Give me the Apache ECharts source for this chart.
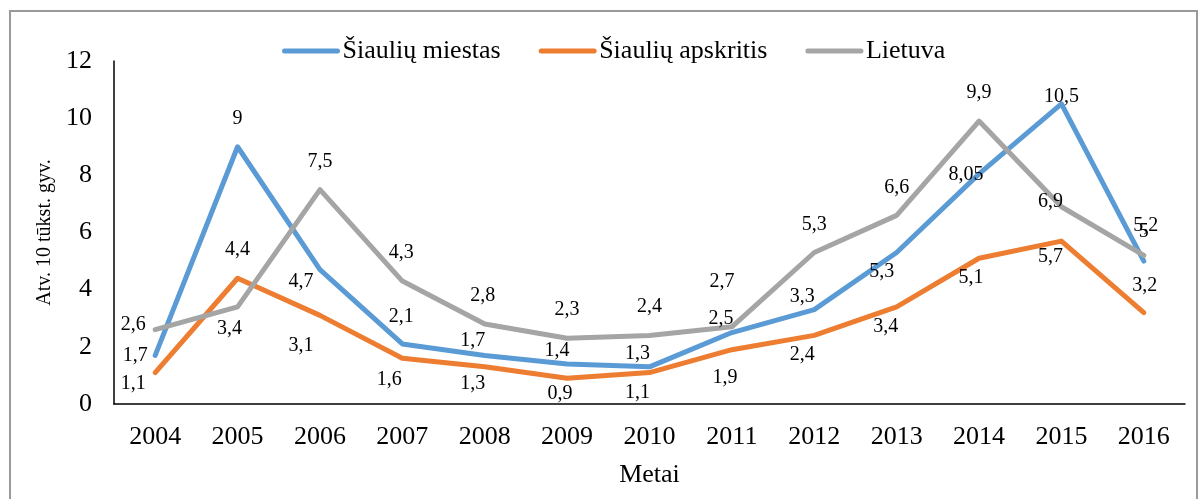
<!DOCTYPE html>
<html>
<head>
<meta charset="utf-8">
<script src="https://cdn.jsdelivr.net/npm/echarts@6/dist/echarts.min.js"></script>
<style>
    html, body { margin: 0; padding: 0; background: #fff; }
    #chart { width: 1199px; height: 499px; }
</style>
</head>
<body>
<div id="chart"></div>
<script>
    var years = ['2004', '2005', '2006', '2007', '2008', '2009', '2010', '2011', '2012', '2013', '2014', '2015', '2016'];
    var miestas = [1.7, 9, 4.7, 2.1, 1.7, 1.4, 1.3, 2.5, 3.3, 5.3, 8.05, 10.5, 5];
    var apskritis = [1.1, 4.4, 3.1, 1.6, 1.3, 0.9, 1.1, 1.9, 2.4, 3.4, 5.1, 5.7, 3.2];
    var lietuva = [2.6, 3.4, 7.5, 4.3, 2.8, 2.3, 2.4, 2.7, 5.3, 6.6, 9.9, 6.9, 5.2];

    // etikečių poslinkiai nuo taško (px)
    var miestasOffsets = [[-20, 0], [0, -28], [-19, 12], [-1, -27], [-12, -15], [-10, -13], [-12, -13], [-11, -14], [-12, -13], [-15, 19], [-13, 1], [0, -7], [0, -29]];
    var apskritisOffsets = [[-22, 11], [0, -28], [-19, 30], [-13, 21], [-12, 17], [-7, 15], [-12, 20], [-7, 28], [-12, 19], [-11, 20], [-8, 20], [-11, 16], [1, -27]];
    var lietuvaOffsets = [[-22, -5], [-8, 22], [0, -28], [-1, -28], [-2, -28], [0, -29], [0, -29], [-10, -45], [0, -28], [0, -28], [0, -28], [-11, -5], [2, -30]];

    var font = "'Liberation Serif', 'Times New Roman', serif";

    var buildData = function (values, offsets) {
        return values.map(function (v, i) {
            return { value: v, label: { offset: offsets[i] } };
        });
    };

    var makeSeries = function (name, color, values, offsets) {
        return {
            name: name,
            type: 'line',
            data: buildData(values, offsets),
            symbol: 'circle',
            symbolSize: 1,
            itemStyle: { color: color },
            lineStyle: { color: color, width: 5, cap: 'round', join: 'round' },
            label: {
                show: true,
                position: 'inside',
                color: '#000',
                fontFamily: font,
                fontSize: 20,
                formatter: function (p) {
                    return String(p.value).replace('.', ',');
                }
            },
            emphasis: { disabled: true },
            animation: false
        };
    };

    var chart = echarts.init(document.getElementById('chart'));

    var option = {
        backgroundColor: '#fff',
        animation: false,
        graphic: [
            {
                type: 'rect',
                shape: { x: 10, y: 11, width: 1187, height: 520 },
                style: { fill: 'none', stroke: '#9a9a9a', lineWidth: 2 },
                silent: true
            }
        ],
        legend: {
            left: 277,
            top: 33,
            itemWidth: 53,
            itemHeight: 14,
            itemGap: 38,
            itemStyle: { opacity: 0 },
            lineStyle: { width: 5, cap: 'round' },
            textStyle: { fontFamily: font, fontSize: 26, color: '#000' },
            data: ['Šiaulių miestas', 'Šiaulių apskritis', 'Lietuva']
        },
        grid: {
            left: 114,
            right: 14,
            top: 61,
            bottom: 95
        },
        xAxis: {
            type: 'category',
            data: years,
            boundaryGap: true,
            name: 'Metai',
            nameLocation: 'middle',
            nameGap: 58,
            nameTextStyle: { fontFamily: font, fontSize: 26, color: '#000' },
            axisLine: { lineStyle: { color: '#000', width: 1.5 } },
            axisTick: { show: false },
            axisLabel: { fontFamily: font, fontSize: 26, color: '#000', margin: 20 }
        },
        yAxis: {
            type: 'value',
            min: 0,
            max: 12,
            interval: 2,
            name: 'Atv. 10 tūkst. gyv.',
            nameLocation: 'middle',
            nameGap: 59,
            nameTextStyle: { fontFamily: font, fontSize: 20, color: '#000' },
            axisLine: { show: true, lineStyle: { color: '#000', width: 1.5 } },
            axisTick: { show: false },
            splitLine: { show: false },
            axisLabel: { fontFamily: font, fontSize: 26, color: '#000', margin: 22 }
        },
        series: [
            makeSeries('Šiaulių miestas', '#5B9BD5', miestas, miestasOffsets),
            makeSeries('Šiaulių apskritis', '#ED7D31', apskritis, apskritisOffsets),
            makeSeries('Lietuva', '#A5A5A5', lietuva, lietuvaOffsets)
        ]
    };

    chart.setOption(option);
</script>
</body>
</html>
